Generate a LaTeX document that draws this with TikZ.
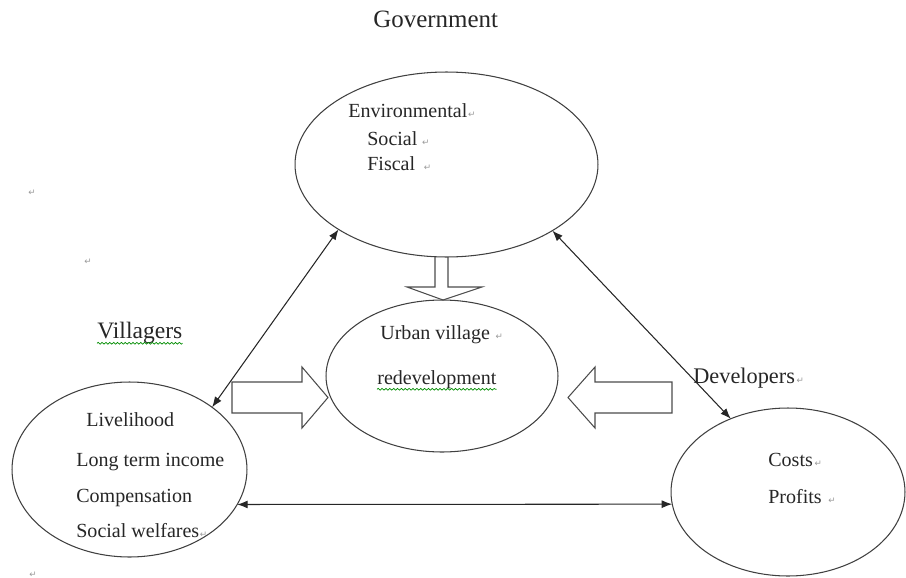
\documentclass[tikz,border=0pt]{standalone}
\usepackage{fontspec}
\setmainfont{Liberation Serif}
\newfontfamily\markfont{DejaVu Sans}
\usetikzlibrary{arrows.meta,shapes.geometric,decorations.pathmorphing}
\tikzset{
    bubble/.style={ellipse, draw=black!75, line width=0.6pt, inner sep=0pt, outer sep=0pt},
    txt/.style={font=\fontsize{11.4}{13}\selectfont, text=black!85, inner sep=0pt, anchor=base west},
    retmark/.style={font=\markfont\fontsize{5}{6}\selectfont, text=black!40, inner sep=0pt},
    link/.style={{Latex[length=6pt,width=4.5pt]}-{Latex[length=6pt,width=4.5pt]}, draw=black!85, line width=0.6pt},
    block/.style={draw=black!70, line width=0.6pt, line join=miter},
    squiggle/.style={draw=green!55!black, line width=0.4pt, decorate,
        decoration={snake, amplitude=0.5pt, segment length=2.2pt}}
}

\begin{document}
\begin{tikzpicture}[x=0.02cm, y=-0.02cm]
    \useasboundingbox (0,0) rectangle (906,578);

    % Draw the four ellipses.
    \node (gov) at (446.5,164.5) [bubble, minimum width=6.06cm, minimum height=3.7cm] {};
    \node (urb) at (442,376) [bubble, minimum width=4.64cm, minimum height=3.04cm] {};
    \node (vil) at (129.5,469.5) [bubble, minimum width=4.7cm, minimum height=3.5cm] {};
    \node (dev) at (788,492) [bubble, minimum width=4.68cm, minimum height=3.36cm] {};

    % Draw actor names.
    \node (govname) at (373,28) [txt, font=\fontsize{14.2}{16}\selectfont] {Government};
    \node (vilname) at (97,338) [txt, font=\fontsize{13.4}{15}\selectfont] {Villagers};
    \node (devname) at (693,383) [txt, font=\fontsize{12.7}{14}\selectfont] {Developers};

    % Draw interests inside the ellipses.
    \foreach \T/\X/\Y/\N in {Environmental/348/117/env, Social/367/145/soc, Fiscal/367/170/fis,
            Livelihood/86/426/liv, Long term income/76/466/lti, Compensation/76/502/cmp,
            Social welfares/76/537/swf, Urban village/380/339/urv, redevelopment/377/384/red,
            Costs/768/466/cst, Profits/768/503/prf}
        \node (\N) at (\X,\Y) [txt] {\T};

    % Draw paragraph marks.
    \foreach \N/\G in {env/0, soc/4, fis/8, urv/5, devname/1, cst/1, prf/6, swf/0}
        \node (\N-rt) at ([xshift=\G*0.02cm]\N.base east) [retmark, anchor=base west] {↵};
    \foreach \X/\Y/\N in {32/193/ma, 88/262/mb, 33/575/mc}
        \node (\N) at (\X,\Y) [retmark] {↵};

    % Draw spelling squiggles.
    \draw[squiggle] ([yshift=-3pt]vilname.base west) -- ([yshift=-3pt]vilname.base east);
    \draw[squiggle] ([yshift=-3pt]red.base west) -- ([yshift=-3pt]red.base east);

    % Draw hollow arrows toward the urban village.
    \draw[block] (435,257) -- (435,287) -- (407,287) -- (443,300) -- (482,287) -- (448,287) -- (448,257);
    \draw[block] (232,382) -- (302,382) -- (302,367) -- (328,397.5) -- (302,428) -- (302,413) -- (232,413) -- cycle;
    \draw[block] (672,382) -- (595,382) -- (595,367) -- (568,397.5) -- (595,428) -- (595,413) -- (672,413) -- cycle;

    % Draw links between actors.
    \draw[link] (vil.37) -- (gov.211);
    \draw[link] (gov.328) -- (dev.128);
    \draw[link] (vil.-18.3) -- (dev.186.4);

\end{tikzpicture}
\end{document}
